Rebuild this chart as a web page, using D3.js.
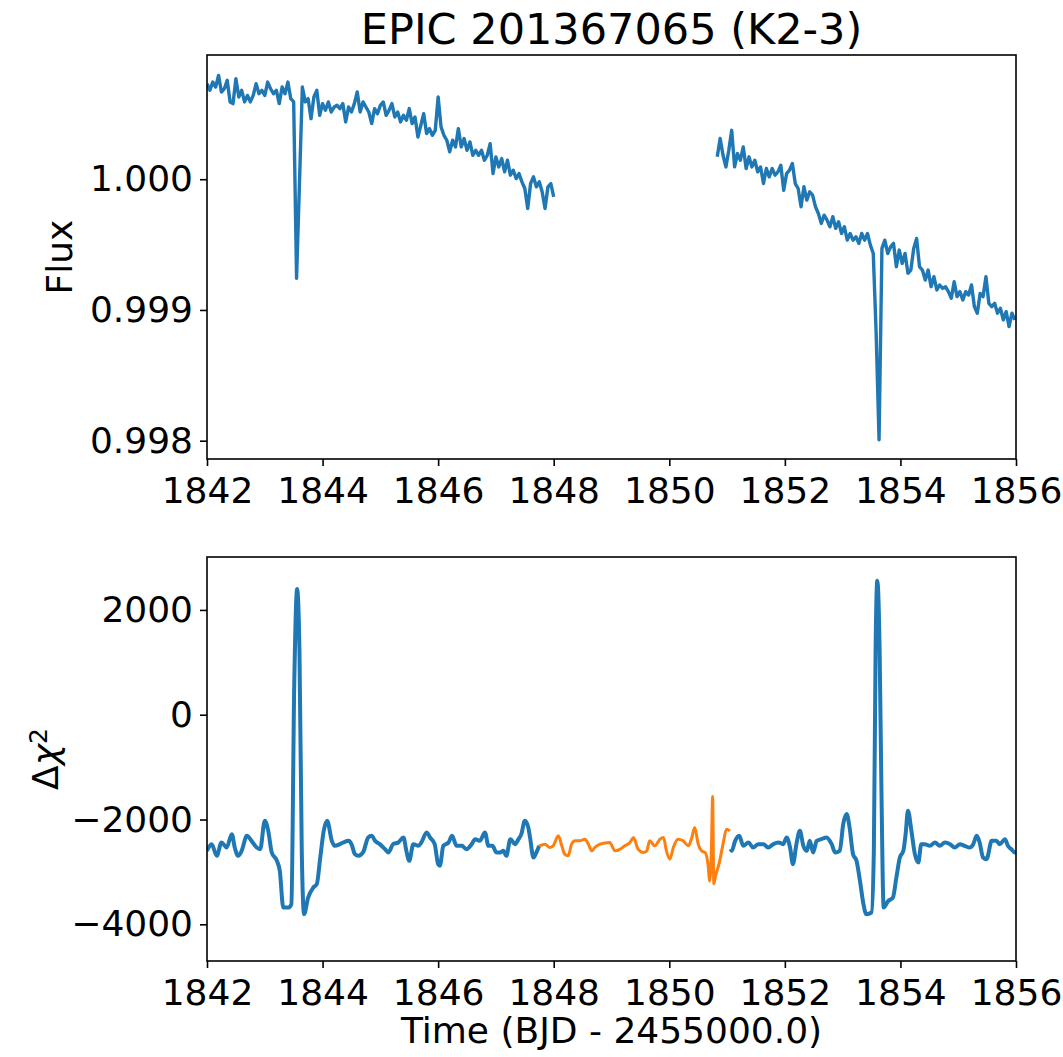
<!DOCTYPE html>
<html>
<head>
<meta charset="utf-8">
<script src="https://cdn.jsdelivr.net/npm/d3@7"></script>
<style>
  body { margin: 0; background: #fff; }
  svg text { font-family: "DejaVu Sans", sans-serif; }
  .tick text { font-size: 36px; fill: #000; }
  .tick line { stroke: #000; stroke-width: 1.6; }
</style>
</head>
<body>
<svg id="figure"></svg>
<script>
const width = 1063;
const height = 1057;
const svg = d3.select("svg#figure");
svg.attr("width", width);
svg.attr("height", height);

// panel boxes (pixels)
const plotLeft = 207;
const plotRight = 1016;
const topPanel = { top: 55, bottom: 459 };
const bottomPanel = { top: 557, bottom: 961 };

//Data
const cadence = 0.05;
const seg1Start = 1842.0;
const seg1Flux = [
  1.000731, 1.000680, 1.000743, 1.000705, 1.000794, 1.000667, 1.000692, 1.000756, 1.000591, 1.000578,
  1.000769, 1.000629, 1.000680, 1.000591, 1.000641, 1.000591, 1.000641, 1.000731, 1.000654, 1.000680,
  1.000641, 1.000743, 1.000692, 1.000654, 1.000680, 1.000578, 1.000705, 1.000654, 1.000743, 1.000616,
  1.000591, 0.999242, 0.999967, 1.000705, 1.000591, 1.000616, 1.000463, 1.000629, 1.000680, 1.000489,
  1.000578, 1.000527, 1.000591, 1.000514, 1.000552, 1.000565, 1.000540, 1.000578, 1.000438, 1.000552,
  1.000514, 1.000578, 1.000667, 1.000514, 1.000591, 1.000552, 1.000514, 1.000425, 1.000540, 1.000501,
  1.000565, 1.000591, 1.000489, 1.000527, 1.000578, 1.000476, 1.000514, 1.000438, 1.000489, 1.000451,
  1.000540, 1.000425, 1.000476, 1.000323, 1.000412, 1.000501, 1.000349, 1.000387, 1.000336, 1.000374,
  1.000629, 1.000400, 1.000336, 1.000298, 1.000209, 1.000298, 1.000247, 1.000387, 1.000247, 1.000311,
  1.000221, 1.000285, 1.000183, 1.000221, 1.000183, 1.000221, 1.000145, 1.000183, 1.000272, 1.000043,
  1.000171, 1.000094, 1.000158, 1.000056, 1.000145, 1.000031, 1.000069, 1.000005, 1.000043, 0.999980,
  0.999929, 0.999776, 0.999967, 1.000018, 0.999942, 0.999980, 0.999904, 0.999776, 0.999942, 0.999967,
  0.999865
];
const seg2Start = 1850.83;
const seg2Flux = [
  1.000171, 1.000311, 1.000183, 1.000094, 1.000221, 1.000374, 1.000094, 1.000196, 1.000145, 1.000247,
  1.000082, 1.000171, 1.000094, 1.000145, 1.000056, 1.000094, 0.999967, 1.000082, 1.000018, 1.000082,
  1.000031, 1.000056, 1.000107, 0.999916, 1.000043, 1.000069, 1.000120, 0.999967, 0.999929, 0.999789,
  0.999942, 0.999840, 0.999904, 0.999878, 0.999789, 0.999738, 0.999662, 0.999725, 0.999687, 0.999636,
  0.999713, 0.999624, 0.999675, 0.999585, 0.999636, 0.999534, 0.999585, 0.999534, 0.999560, 0.999509,
  0.999585, 0.999534, 0.999585, 0.999496, 0.999432, 0.998822, 0.998007, 0.999471, 0.999534, 0.999432,
  0.999483, 0.999509, 0.999331, 0.999458, 0.999356, 0.999432, 0.999280, 0.999305, 0.999471, 0.999547,
  0.999331, 0.999305, 0.999229, 0.999305, 0.999178, 0.999254, 0.999153, 0.999191, 0.999165, 0.999178,
  0.999140, 0.999089, 0.999216, 0.999102, 0.999140, 0.999076, 0.999140, 0.999114, 0.999191, 0.999025,
  0.998975, 0.999127, 0.999102, 0.999254, 0.999051, 0.999025, 0.999051, 0.998975, 0.999013, 0.998924,
  0.998987, 0.998873, 0.998975, 0.998924
];

// delta chi^2 as [time, value]
const chiBlueA = [
  [1842.00, -2598], [1842.08, -2470], [1842.17, -2693], [1842.25, -2438], [1842.34, -2534],
  [1842.43, -2279], [1842.48, -2534], [1842.54, -2693], [1842.60, -2598], [1842.69, -2311],
  [1842.77, -2407], [1842.86, -2534], [1842.92, -2566], [1843.00, -2025], [1843.06, -2216],
  [1843.12, -2629], [1843.21, -2789], [1843.26, -2980], [1843.32, -3680], [1843.41, -3680],
  [1843.46, -3616], [1843.51, 586], [1843.56, 2400], [1843.60, 1222], [1843.64, -2598],
  [1843.68, -3807], [1843.75, -3489], [1843.84, -3298], [1843.90, -3234], [1843.96, -2725],
  [1844.02, -2216], [1844.08, -2025], [1844.16, -2407], [1844.21, -2502], [1844.30, -2470],
  [1844.36, -2438], [1844.45, -2407], [1844.50, -2470], [1844.56, -2661], [1844.62, -2693],
  [1844.70, -2629], [1844.79, -2343], [1844.85, -2311], [1844.91, -2407], [1844.99, -2470],
  [1845.08, -2566], [1845.14, -2629], [1845.22, -2470], [1845.31, -2438], [1845.40, -2343],
  [1845.45, -2598], [1845.50, -2789], [1845.57, -2470], [1845.66, -2502], [1845.71, -2438],
  [1845.80, -2247], [1845.86, -2343], [1845.94, -2470], [1846.00, -2852], [1846.03, -2884],
  [1846.09, -2502], [1846.18, -2438], [1846.24, -2311], [1846.32, -2502], [1846.41, -2502],
  [1846.49, -2566], [1846.58, -2470], [1846.64, -2375], [1846.72, -2407], [1846.81, -2247],
  [1846.87, -2502], [1846.94, -2502], [1847.01, -2629], [1847.07, -2629], [1847.13, -2598],
  [1847.18, -2693], [1847.25, -2375], [1847.33, -2470], [1847.39, -2375], [1847.44, -2279],
  [1847.50, -2025], [1847.56, -2152], [1847.59, -2343], [1847.65, -2725], [1847.70, -2629],
  [1847.75, -2502]
];
const chiOrange = [
  [1847.75, -2502], [1847.85, -2470], [1847.93, -2534], [1847.99, -2502], [1848.08, -2311],
  [1848.14, -2502], [1848.19, -2661], [1848.25, -2693], [1848.31, -2470], [1848.37, -2407],
  [1848.45, -2407], [1848.54, -2375], [1848.60, -2470], [1848.66, -2598], [1848.71, -2534],
  [1848.80, -2470], [1848.97, -2438], [1849.06, -2598], [1849.15, -2566], [1849.23, -2502],
  [1849.32, -2438], [1849.38, -2343], [1849.46, -2566], [1849.55, -2629], [1849.61, -2598],
  [1849.66, -2407], [1849.75, -2502], [1849.84, -2375], [1849.90, -2343], [1849.95, -2598],
  [1850.01, -2757], [1850.07, -2534], [1850.15, -2375], [1850.24, -2407], [1850.33, -2502],
  [1850.39, -2343], [1850.44, -2152], [1850.50, -2470], [1850.56, -2598], [1850.62, -2629],
  [1850.67, -2852], [1850.70, -3171], [1850.73, -2534], [1850.75, -1560], [1850.77, -3228],
  [1850.80, -3075], [1850.86, -2852], [1850.93, -2470], [1850.99, -2184], [1851.05, -2216]
];
const chiBlueB = [
  [1851.06, -2566], [1851.08, -2598], [1851.14, -2407], [1851.21, -2311], [1851.28, -2502],
  [1851.37, -2438], [1851.45, -2534], [1851.54, -2470], [1851.63, -2470], [1851.71, -2534],
  [1851.80, -2470], [1851.89, -2438], [1851.97, -2470], [1852.03, -2343], [1852.09, -2534],
  [1852.14, -2852], [1852.20, -2470], [1852.26, -2216], [1852.32, -2502], [1852.38, -2598],
  [1852.43, -2407], [1852.49, -2629], [1852.55, -2407], [1852.63, -2375], [1852.72, -2343],
  [1852.81, -2470], [1852.87, -2629], [1852.95, -2598], [1853.01, -2088], [1853.07, -1897],
  [1853.12, -2152], [1853.18, -2661], [1853.24, -2789], [1853.30, -3171], [1853.36, -3616],
  [1853.41, -3807], [1853.50, -3775], [1853.54, -2598], [1853.57, 1222], [1853.60, 2559],
  [1853.64, 1222], [1853.67, -1324], [1853.71, -3680], [1853.79, -3553], [1853.87, -3489],
  [1853.93, -3107], [1853.99, -2725], [1854.05, -2598], [1854.09, -2279], [1854.13, -1834],
  [1854.19, -2216], [1854.25, -2661], [1854.31, -2820], [1854.36, -2470], [1854.42, -2470],
  [1854.51, -2502], [1854.60, -2438], [1854.68, -2502], [1854.77, -2438], [1854.86, -2470],
  [1854.94, -2534], [1855.03, -2470], [1855.11, -2502], [1855.20, -2534], [1855.26, -2470],
  [1855.32, -2311], [1855.37, -2438], [1855.43, -2725], [1855.49, -2757], [1855.58, -2407],
  [1855.66, -2407], [1855.72, -2470], [1855.81, -2375], [1855.86, -2502], [1855.92, -2566],
  [1855.98, -2629], [1856.00, -2629]
];

const timeTicks = [1842, 1844, 1846, 1848, 1850, 1852, 1854, 1856];
const fluxTicks = [0.998, 0.999, 1.000];
const chiTicks = [-4000, -2000, 0, 2000];

// scales
const x = d3.scaleLinear().domain([1842, 1856]).range([plotLeft, plotRight]);
const yFlux = d3.scaleLinear().domain([0.99786, 1.00095]).range([topPanel.bottom, topPanel.top]);
const yChi = d3.scaleLinear().domain([-4700, 3010]).range([bottomPanel.bottom, bottomPanel.top]);

let defs = svg.append("defs");
function addClip(id, panel) {
  defs.append("clipPath").attr("id", id)
    .append("rect")
    .attr("x", plotLeft)
    .attr("y", panel.top)
    .attr("width", plotRight - plotLeft)
    .attr("height", panel.bottom - panel.top);
}
addClip("clipTop", topPanel);
addClip("clipBottom", bottomPanel);

// axes
function drawAxes(panel, yScale, yTicks, yFormat) {
  svg.append("g")
    .attr("transform", "translate(0," + panel.bottom + ")")
    .call(d3.axisBottom(x).tickValues(timeTicks).tickFormat(d3.format("d"))
      .tickSize(7).tickPadding(11))
    .select(".domain").remove();
  svg.append("g")
    .attr("transform", "translate(" + plotLeft + ",0)")
    .call(d3.axisLeft(yScale).tickValues(yTicks).tickFormat(yFormat)
      .tickSize(7).tickPadding(7))
    .select(".domain").remove();
}
drawAxes(topPanel, yFlux, fluxTicks, d3.format(".3f"));
drawAxes(bottomPanel, yChi, chiTicks, d3.format("d"));

// light curve
const fluxLine = d3.line().x(d => x(d.t)).y(d => yFlux(d.v));
const seg1 = seg1Flux.map((v, i) => ({ t: seg1Start + i * cadence, v: v }));
const seg2 = seg2Flux.map((v, i) => ({ t: seg2Start + i * cadence, v: v }));
svg.append("g").attr("clip-path", "url(#clipTop)")
  .selectAll("path")
  .data([seg1, seg2])
  .enter()
  .append("path")
    .attr("d", fluxLine)
    .attr("fill", "none")
    .attr("stroke", "#1f77b4")
    .attr("stroke-width", 3.4)
    .attr("stroke-linejoin", "round")
    .attr("stroke-linecap", "butt");

// delta chi^2
const chiLine = d3.line().x(d => x(d[0])).y(d => yChi(d[1])).curve(d3.curveMonotoneX);
let chiGroup = svg.append("g").attr("clip-path", "url(#clipBottom)");
chiGroup.selectAll("path.blue")
  .data([chiBlueA, chiBlueB])
  .enter()
  .append("path")
    .attr("class", "blue")
    .attr("d", chiLine)
    .attr("fill", "none")
    .attr("stroke", "#1f77b4")
    .attr("stroke-width", 4)
    .attr("stroke-linejoin", "round");
chiGroup.append("path")
  .attr("d", chiLine(chiOrange))
  .attr("fill", "none")
  .attr("stroke", "#ff7f0e")
  .attr("stroke-width", 3)
  .attr("stroke-linejoin", "round");

// frames
[topPanel, bottomPanel].forEach(function(p) {
  svg.append("rect")
    .attr("x", plotLeft)
    .attr("y", p.top)
    .attr("width", plotRight - plotLeft)
    .attr("height", p.bottom - p.top)
    .attr("fill", "none")
    .attr("stroke", "#000")
    .attr("stroke-width", 1.6);
});

// titles and labels
svg.append("text")
  .text("EPIC 201367065 (K2-3)")
  .attr("x", (plotLeft + plotRight) / 2)
  .attr("y", 44)
  .attr("text-anchor", "middle")
  .style("font-size", "43px");

svg.append("text")
  .text("Flux")
  .attr("text-anchor", "middle")
  .attr("transform", "translate(72," + (topPanel.top + topPanel.bottom) / 2 + ") rotate(-90)")
  .style("font-size", "36px");

let chiLabel = svg.append("text")
  .attr("text-anchor", "middle")
  .attr("transform", "translate(58," + (bottomPanel.top + bottomPanel.bottom) / 2 + ") rotate(-90)")
  .style("font-size", "36px");
chiLabel.append("tspan").text("Δ");
chiLabel.append("tspan").text("χ").style("font-style", "italic");
chiLabel.append("tspan").text("2").attr("dy", "-0.45em").style("font-size", "25px");

svg.append("text")
  .text("Time (BJD - 2455000.0)")
  .attr("x", (plotLeft + plotRight) / 2)
  .attr("y", 1043)
  .attr("text-anchor", "middle")
  .style("font-size", "36px");
</script>
</body>
</html>
